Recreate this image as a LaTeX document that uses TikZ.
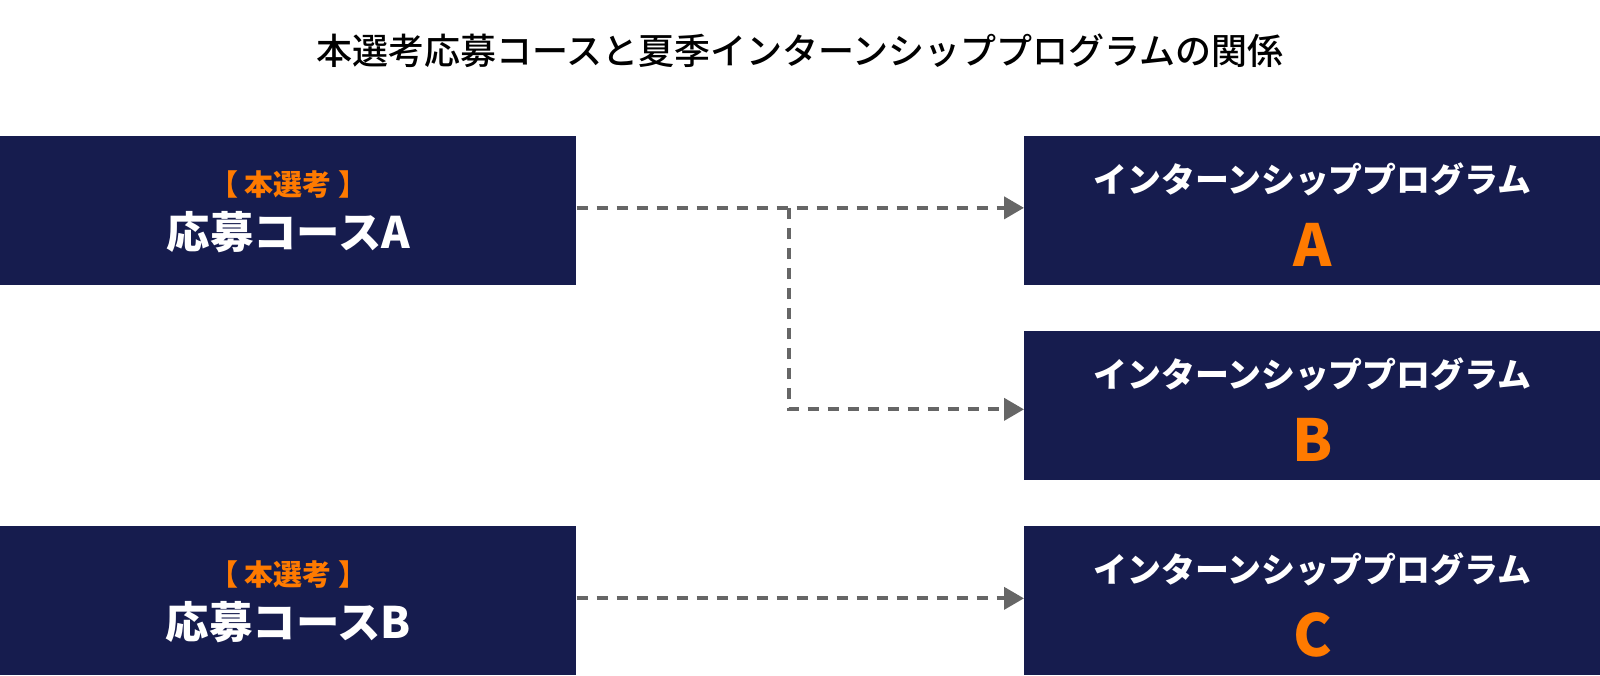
\documentclass[tikz,border=0pt]{standalone}
\usepackage{fontspec}
\setmainfont{Noto Sans CJK JP}
\newfontfamily\mediumfont{Noto Sans CJK JP Medium}
\usetikzlibrary{arrows.meta,positioning,calc}

\definecolor{navy}{RGB}{22,28,78}
\definecolor{accent}{RGB}{255,122,0}
\definecolor{linkgray}{RGB}{102,102,102}

\begin{document}
\begin{tikzpicture}
\tikzset{
  basic/.style  = {rectangle, fill=navy, inner sep=0pt, anchor=north west},
  course/.style = {basic, minimum width=11.52cm, minimum height=2.98cm},
  program/.style = {basic, minimum width=11.52cm, minimum height=2.98cm},
  tag/.style    = {text=accent, font=\bfseries\fontsize{16.5}{19}\selectfont, inner sep=0pt},
  cname/.style  = {text=white, font=\bfseries\fontsize{24.7}{30}\selectfont, inner sep=0pt},
  pname/.style  = {text=white, font=\bfseries\fontsize{19.3}{23}\selectfont, inner sep=0pt},
  pletter/.style = {text=accent, font=\bfseries\fontsize{33}{40}\selectfont, inner sep=0pt},
  link/.style   = {draw=linkgray, line width=0.08cm, dash pattern=on 0.22cm off 0.18cm,
                   -{Triangle[length=0.4cm, width=0.44cm]}}
}
\useasboundingbox (0,0) rectangle (32,-13.52);

\node[font=\mediumfont\fontsize{20.5}{24}\selectfont] (title) at (16,-1.02) {本選考応募コースと夏季インターンシッププログラムの関係};

% courses on the left
\node[course] (ca) at (0,-2.72) {};
\node[course] (cb) at (0,-10.52) {};
% programs on the right
\node[program] (pa) at (20.48,-2.72) {};
\node[program] (pb) at (20.48,-6.62) {};
\node[program] (pc) at (20.48,-10.52) {};

\foreach \c/\l in {ca/A, cb/B} {
  \node[tag]   (\c-tag)  at ($(\c.center)+(0,0.53)$) {【 本選考 】};
  \node[cname] (\c-name) at ($(\c.center)+(0,-0.43)$) {応募コース\l};
}
\foreach \p/\l in {pa/A, pb/B, pc/C} {
  \node[pname]   (\p-name)   at ($(\p.center)+(0,0.63)$) {インターンシッププログラム};
  \node[pletter] (\p-letter) at ($(\p.center)+(0,-0.69)$) {\l};
}

% connectors
\coordinate (jn) at (15.78,0 |- ca.east);
\draw[link] ($(ca.east)+(0,0.06)$) -- ($(pa.west)+(0,0.06)$);
\draw[link] ($(jn)+(0,0.06)$) |- ($(pb.west)+(0,-0.07)$);
\draw[link] ($(cb.east)+(0,0.05)$) -- ($(pc.west)+(0,0.05)$);
\end{tikzpicture}
\end{document}
